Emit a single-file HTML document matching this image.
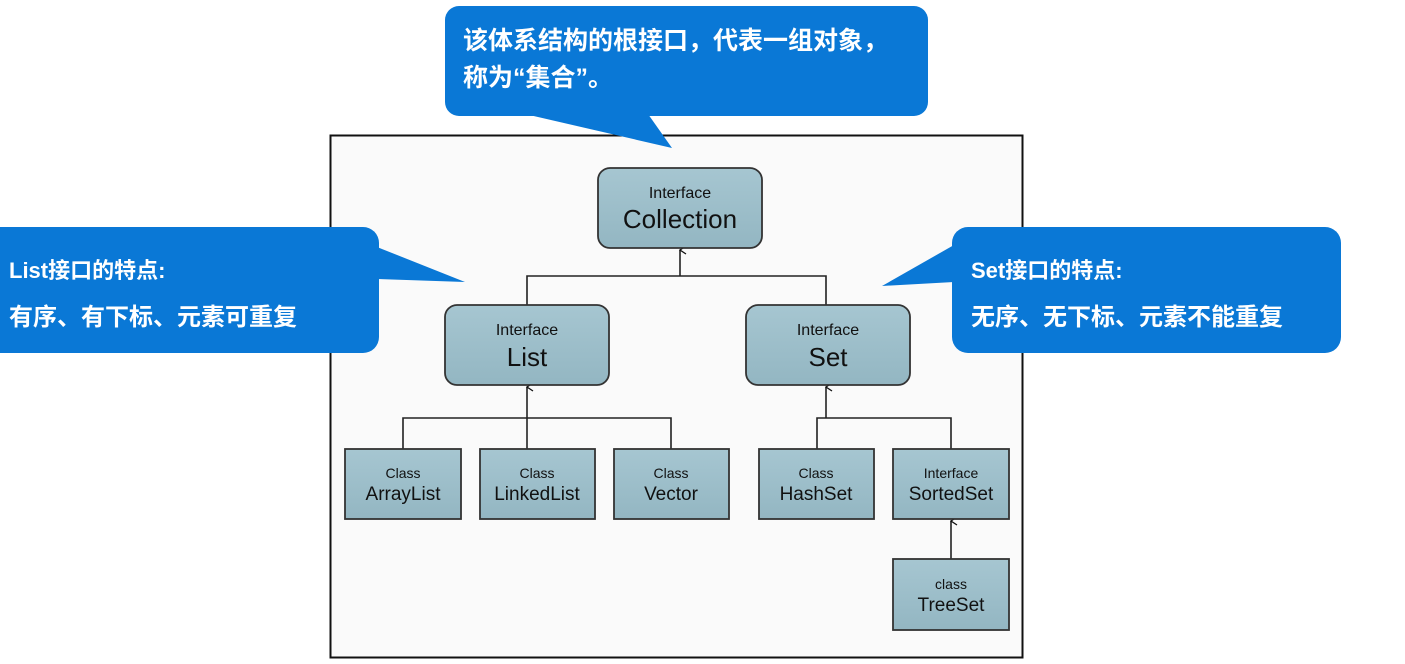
<!DOCTYPE html>
<html><head><meta charset="utf-8"><style>
html,body{margin:0;padding:0;background:#fff;width:1405px;height:664px;overflow:hidden}
svg{display:block}
.s{font-family:"Liberation Sans",Arial,sans-serif;fill:#111;text-anchor:middle}
.c{font-family:"Liberation Sans","Noto Sans CJK SC",sans-serif;fill:#fff;font-weight:bold}
</style></head><body>
<svg width="1405" height="664" viewBox="0 0 1405 664" xmlns="http://www.w3.org/2000/svg">
<defs>
<linearGradient id="g" x1="0" y1="0" x2="0" y2="1"><stop offset="0" stop-color="#a6c6d1"/><stop offset="1" stop-color="#93b6c2"/></linearGradient>
<marker id="a" markerWidth="10" markerHeight="10" refX="5" refY="1" orient="auto" markerUnits="userSpaceOnUse"><path d="M1,7 L5,1 L9,7" fill="none" stroke="#111" stroke-width="1.3"/></marker>
</defs>
<rect x="330.5" y="135.5" width="692" height="522" fill="#fafafa" stroke="#111" stroke-width="2"/>
<g stroke="#222" stroke-width="1.6" fill="none">
<path d="M527,305 V276 H826 V305"/>
<line x1="680" y1="276" x2="680" y2="250" marker-end="url(#a)"/>
<path d="M403,449 V418 H671 V449"/>
<line x1="527" y1="449" x2="527" y2="387" marker-end="url(#a)"/>
<path d="M817,449 V418 H951 V449"/>
<line x1="826" y1="418" x2="826" y2="387" marker-end="url(#a)"/>
<line x1="951" y1="559" x2="951" y2="521" marker-end="url(#a)"/>
</g>
<g fill="url(#g)" stroke="#333" stroke-width="1.8">
<rect x="598" y="168" width="164" height="80" rx="12"/>
<rect x="445" y="305" width="164" height="80" rx="12"/>
<rect x="746" y="305" width="164" height="80" rx="12"/>
<rect x="345" y="449" width="116" height="70"/>
<rect x="480" y="449" width="115" height="70"/>
<rect x="614" y="449" width="115" height="70"/>
<rect x="759" y="449" width="115" height="70"/>
<rect x="893" y="449" width="116" height="70"/>
<rect x="893" y="559" width="116" height="71"/>
</g>
<g class="s">
<text x="680" y="198" font-size="16">Interface</text><text x="680" y="228" font-size="26">Collection</text>
<text x="527" y="335" font-size="16">Interface</text><text x="527" y="366" font-size="26">List</text>
<text x="828" y="335" font-size="16">Interface</text><text x="828" y="366" font-size="26">Set</text>
<text x="403" y="478" font-size="14">Class</text><text x="403" y="500" font-size="19">ArrayList</text>
<text x="537" y="478" font-size="14">Class</text><text x="537" y="500" font-size="19">LinkedList</text>
<text x="671" y="478" font-size="14">Class</text><text x="671" y="500" font-size="19">Vector</text>
<text x="816" y="478" font-size="14">Class</text><text x="816" y="500" font-size="19">HashSet</text>
<text x="951" y="478" font-size="14">Interface</text><text x="951" y="500" font-size="19">SortedSet</text>
<text x="951" y="589" font-size="14">class</text><text x="951" y="611" font-size="19">TreeSet</text>
</g>
<g fill="#0a78d6">
<rect x="445" y="6" width="483" height="110" rx="14"/>
<path d="M525,114 L648,114 L672,148 Z"/>
<rect x="-20" y="227" width="399" height="126" rx="16"/>
<path d="M377,247 L465,282 L377,279 Z"/>
<rect x="952" y="227" width="389" height="126" rx="16"/>
<path d="M954,245 L882,286 L954,282 Z"/>
</g>
<g class="c">
<text x="463" y="49" font-size="25">该体系结构的根接口，代表一组对象，</text>
<text x="463" y="86" font-size="25">称为“集合”。</text>
<text x="9" y="278" font-size="22">List接口的特点:</text>
<text x="9" y="325" font-size="24">有序、有下标、元素可重复</text>
<text x="971" y="278" font-size="22">Set接口的特点:</text>
<text x="971" y="325" font-size="24">无序、无下标、元素不能重复</text>
</g>
</svg>
</body></html>
